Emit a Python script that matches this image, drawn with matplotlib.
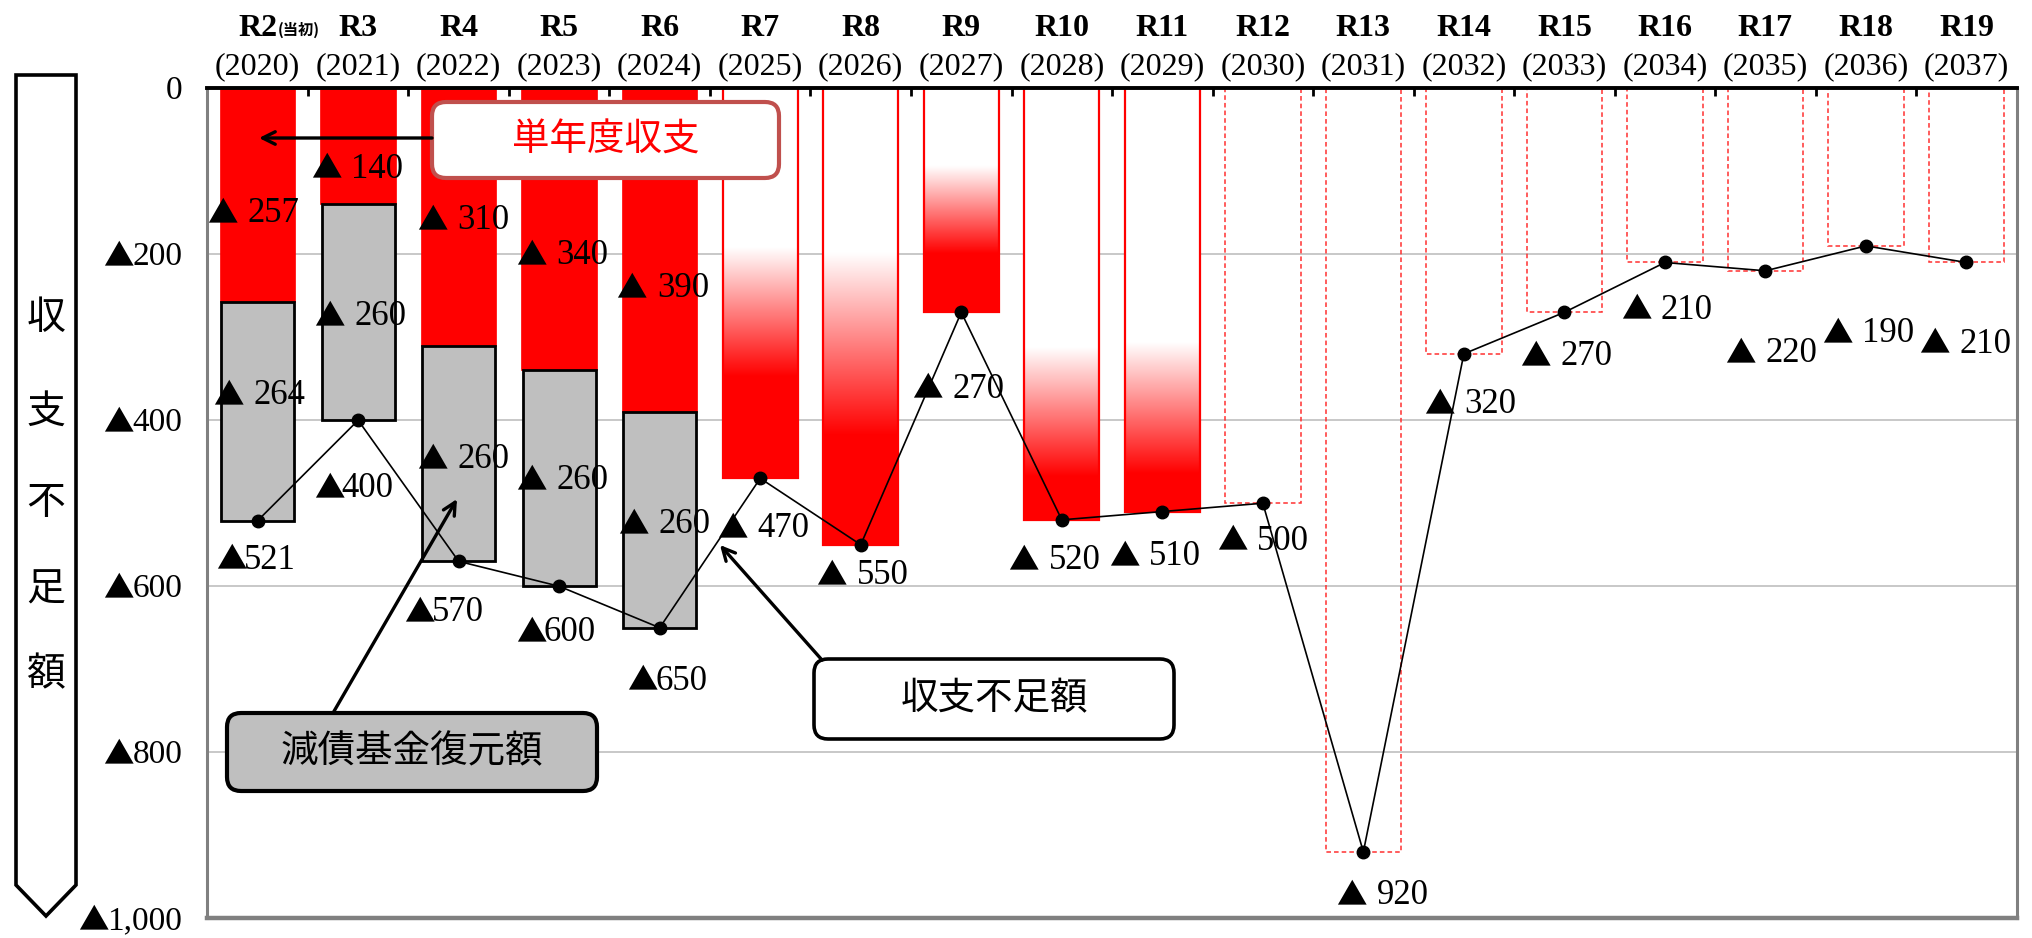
import matplotlib

matplotlib.use("Agg")

import matplotlib.pyplot as plt
import matplotlib.transforms as mtransforms
import numpy as np
from matplotlib.patches import FancyBboxPatch, Polygon

CATEGORIES = ["R2", "R3", "R4", "R5", "R6", "R7", "R8", "R9", "R10", "R11",
              "R12", "R13", "R14", "R15", "R16", "R17", "R18", "R19"]
YEARS = ["(2020)", "(2021)", "(2022)", "(2023)", "(2024)", "(2025)", "(2026)",
         "(2027)", "(2028)", "(2029)", "(2030)", "(2031)", "(2032)", "(2033)",
         "(2034)", "(2035)", "(2036)", "(2037)"]
SINGLE_YEAR = [257, 140, 310, 340, 390]          # 単年度収支 (R2-R6)
FUND_RESTORE = [264, 260, 260, 260, 260]         # 減債基金復元額 (R2-R6)
TOTAL = [521, 400, 570, 600, 650, 470, 550, 270, 520, 510,
         500, 920, 320, 270, 210, 220, 190, 210]  # 収支不足額
Y_TICKS = [0, 200, 400, 600, 800, 1000]

N_STACKED = 5
N_GRADIENT = 5

# label placement (x offset from column centre, y in data units)
SINGLE_LABEL_DX = [-0.50, -0.47, -0.41, -0.43, -0.43]
SINGLE_LABEL_Y = [148, 94, 156, 198, 238]
FUND_LABEL_DX = [-0.44, -0.44, -0.41, -0.43, -0.41]
FUND_LABEL_Y = [367, 272, 444, 469, 522]
TOTAL_LABEL_DX = [-0.41, -0.44, -0.54, -0.43, -0.32, -0.43, -0.44, -0.49, -0.53,
                  -0.53, -0.46, -0.27, -0.40, -0.44, -0.44, -0.40, -0.44, -0.47]
TOTAL_LABEL_Y = [565, 479, 628, 652, 711, 527, 584, 359, 566, 561,
                 542, 969, 378, 320, 264, 316, 292, 305]
# white -> red fade (fraction of bar length) for R7-R11
FADE = [(0.41, 0.74), (0.36, 0.76), (0.35, 0.74), (0.60, 0.90), (0.60, 0.91)]

RED = "#ff0000"
GRAY = "#bfbfbf"
SERIF = ["Liberation Serif", "DejaVu Sans"]
CJK = ["Noto Sans CJK JP", "DejaVu Sans"]

LABEL_SIZE = 25
TRI_SIZE = 22

plt.rcParams["font.family"] = SERIF

fig = plt.figure(figsize=(20.33, 9.38), dpi=100)
ax = fig.add_axes([0.102, 0.021, 0.890, 0.885])

x = np.arange(len(CATEGORIES))
width = 0.75


def tri_label(xv, yv, number, gap):
    # ▲ drawn in a CJK face (full-width triangle), number in serif
    base = -0.33 * LABEL_SIZE
    ax.annotate("▲", xy=(xv, yv), xytext=(0, base), textcoords="offset points",
                ha="left", va="baseline", fontsize=TRI_SIZE, family=CJK, zorder=5)
    ax.annotate(number, xy=(xv, yv), xytext=(gap, base), textcoords="offset points",
                ha="left", va="baseline", fontsize=LABEL_SIZE, zorder=5)


for v in Y_TICKS[1:-1]:
    ax.axhline(v, color="#bfbfbf", lw=1.2, zorder=0)

# stacked R2-R6
ax.bar(x[:N_STACKED], SINGLE_YEAR, width, color=RED, edgecolor=RED, lw=0.5, zorder=1)
ax.bar(x[:N_STACKED], FUND_RESTORE, width * 0.97, bottom=SINGLE_YEAR, color=GRAY,
       edgecolor="black", lw=2.0, zorder=2)

# gradient R7-R11
for i in range(N_STACKED, N_STACKED + N_GRADIENT):
    f0, f1 = FADE[i - N_STACKED]
    t = np.linspace(0, 1, 400)
    a = np.clip((t - f0) / (f1 - f0), 0, 1)
    img = np.ones((len(t), 1, 3))
    img[:, 0, 1] = 1 - a
    img[:, 0, 2] = 1 - a
    ax.imshow(img, extent=(x[i] - width / 2, x[i] + width / 2, TOTAL[i], 0),
              origin="upper", aspect="auto", interpolation="bilinear", zorder=1)
    ax.bar(x[i], TOTAL[i], width, fill=False, edgecolor=RED, lw=1.6, zorder=2)

# dashed outlines R12-R19
ax.bar(x[N_STACKED + N_GRADIENT:], TOTAL[N_STACKED + N_GRADIENT:], width, fill=False,
       edgecolor="#ff3030", lw=1.1, linestyle=(0, (3, 2)), zorder=2)

# total deficit line
ax.plot(x, TOTAL, color="black", lw=1.2, marker="o", markersize=9, zorder=4)

# data labels
for i, v in enumerate(SINGLE_YEAR):
    tri_label(x[i] + SINGLE_LABEL_DX[i], SINGLE_LABEL_Y[i], str(v), 29)
for i, v in enumerate(FUND_RESTORE):
    tri_label(x[i] + FUND_LABEL_DX[i], FUND_LABEL_Y[i], str(v), 29)
for i, v in enumerate(TOTAL):
    tri_label(x[i] + TOTAL_LABEL_DX[i], TOTAL_LABEL_Y[i], str(v),
              20 if i < N_STACKED else 29)

ax.set_xlim(-0.5, len(CATEGORIES) - 0.5)
ax.set_ylim(1000, 0)

# y tick labels drawn by hand so the triangle can use the CJK face
ax.set_yticks(Y_TICKS)
ax.set_yticklabels([])
ax.tick_params(axis="y", length=0)
ytrans = ax.get_yaxis_transform()
tick_size = 24
for v in Y_TICKS:
    num = f"{v:,}"
    ax.annotate(num, xy=(0, v), xycoords=ytrans, xytext=(-18, -0.33 * tick_size),
                textcoords="offset points", ha="right", va="baseline",
                fontsize=tick_size, annotation_clip=False)
    if v:
        num_w = tick_size * (0.5 * sum(c.isdigit() for c in num) + 0.25 * num.count(","))
        ax.annotate("▲", xy=(0, v), xycoords=ytrans,
                    xytext=(-18 - num_w + 1, -0.33 * tick_size),
                    textcoords="offset points", ha="right", va="baseline",
                    fontsize=TRI_SIZE, family=CJK, annotation_clip=False)

ax.xaxis.tick_top()
ax.set_xticks(x[:-1] + 0.5)
ax.set_xticklabels([])
ax.tick_params(axis="x", direction="in", length=6, width=2, color="black")

ax.spines["top"].set_color("black")
ax.spines["top"].set_linewidth(2.8)
for side, lw in (("left", 2.2), ("right", 2.2), ("bottom", 3.2)):
    ax.spines[side].set_color("#808080")
    ax.spines[side].set_linewidth(lw)

# category labels above the plot
trans = mtransforms.blended_transform_factory(ax.transData, fig.transFigure)
for i, (cat, yr) in enumerate(zip(CATEGORIES, YEARS)):
    ax.text(x[i], 0.970, cat, transform=trans, ha="center", va="center",
            fontsize=23, fontweight="bold", clip_on=False)
    ax.text(x[i], 0.929, yr, transform=trans, ha="center", va="center",
            fontsize=23, clip_on=False)
ax.text(x[0] + 0.2, 0.968, "(当初)", transform=trans, ha="left", va="center",
        fontsize=11, family=CJK, fontweight="bold", clip_on=False)

# overlay in pixel coordinates for callouts
ov = fig.add_axes([0, 0, 1, 1], zorder=10)
ov.set_xlim(0, 2033)
ov.set_ylim(938, 0)
ov.axis("off")
ov.patch.set_visible(False)

ov.add_patch(Polygon([(16, 75), (76, 75), (76, 885), (46, 916), (16, 885)],
                     closed=True, facecolor="white", edgecolor="black", lw=2.6))
for ch, cy in zip("収支不足額", [318, 412, 503, 590, 674]):
    ov.text(46, cy, ch, ha="center", va="center", fontsize=28, family=CJK)


def callout(x0, y0, w, h, text, face, edge, tcolor, lw):
    ov.add_patch(FancyBboxPatch((x0, y0), w, h, boxstyle="round,pad=0,rounding_size=14",
                                facecolor=face, edgecolor=edge, lw=lw))
    ov.text(x0 + w / 2, y0 + h / 2, text, ha="center", va="center", fontsize=27,
            family=CJK, color=tcolor)


arrow = dict(arrowstyle="->,head_length=0.9,head_width=0.45", lw=2.4, color="black",
             shrinkA=0, shrinkB=0)
ov.annotate("", xy=(259, 138), xytext=(432, 138), arrowprops=arrow)
callout(432, 102, 347, 76, "単年度収支", "white", "#c0504d", RED, 3.0)

ov.annotate("", xy=(457, 499), xytext=(333, 713), arrowprops=arrow)
callout(227, 713, 370, 78, "減債基金復元額", GRAY, "black", "black", 3.0)

ov.annotate("", xy=(720, 545), xytext=(822, 660), arrowprops=arrow)
callout(814, 659, 360, 80, "収支不足額", "white", "black", "black", 2.6)

fig.savefig("out.png", dpi=100, facecolor="white")
